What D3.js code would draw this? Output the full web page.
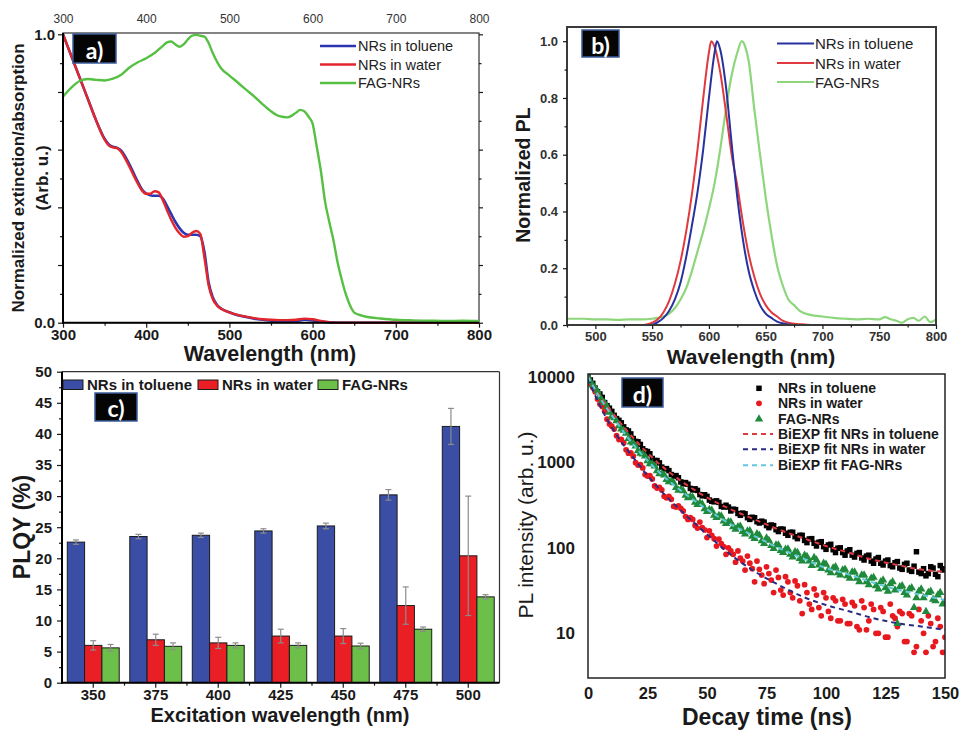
<!DOCTYPE html>
<html><head><meta charset="utf-8">
<script src="https://cdn.jsdelivr.net/npm/d3@7"></script>
<style>body{margin:0;background:#fff;} svg{display:block;}</style>
</head><body><svg id="c" width="960" height="730"></svg>
<script>
// ---------- Panel a: absorption ----------
const absTolWl = [300,310,320,330,340,350,355,360,365,370,375,380,385,390,395,400,405,410,415,420,425,430,435,440,445,450,455,460,465,470,475,480,485,490,500,510,520,530,540,550,560,570,580,590,600,610,620,630,650,700,750,800];
const absTolVal = [1.0,0.925,0.85,0.775,0.70,0.638,0.618,0.61,0.606,0.597,0.575,0.548,0.518,0.488,0.462,0.448,0.442,0.44,0.44,0.43,0.405,0.377,0.35,0.328,0.312,0.305,0.305,0.305,0.3,0.245,0.14,0.088,0.062,0.049,0.036,0.026,0.02,0.014,0.01,0.007,0.005,0.005,0.006,0.01,0.008,0.004,0.001,0,0,0,0,0];
const absWatWl = absTolWl;
const absWatVal = [1.0,0.925,0.85,0.775,0.70,0.635,0.615,0.608,0.605,0.592,0.568,0.54,0.51,0.482,0.458,0.447,0.447,0.456,0.452,0.425,0.39,0.357,0.33,0.31,0.298,0.3,0.312,0.318,0.308,0.225,0.13,0.082,0.06,0.048,0.036,0.027,0.021,0.016,0.012,0.01,0.009,0.009,0.01,0.014,0.012,0.006,0.002,0,0,0,0,0];
const absFagWl = [300,310,320,330,340,350,360,370,380,390,400,410,420,425,430,435,440,445,450,455,460,465,470,475,480,490,500,510,520,530,540,550,560,570,580,585,590,595,600,605,610,615,620,625,630,635,640,645,650,660,670,680,700,720,740,760,780,800];
const absFagVal = [0.784,0.815,0.838,0.845,0.842,0.84,0.846,0.86,0.885,0.903,0.917,0.935,0.96,0.972,0.975,0.965,0.957,0.965,0.982,0.995,0.998,0.995,0.992,0.97,0.935,0.882,0.857,0.833,0.808,0.784,0.757,0.733,0.716,0.712,0.728,0.738,0.733,0.715,0.69,0.61,0.525,0.42,0.35,0.287,0.21,0.15,0.098,0.06,0.035,0.024,0.018,0.015,0.01,0.008,0.007,0.006,0.007,0.006];
const absTicks = [300,400,500,600,700,800];

// ---------- Panel b: PL ----------
const plTolWl = [550,555,560,565,570,575,580,585,590,595,600,605,607,610,615,620,625,630,635,640,645,650,655,660,665,670,680,700,800];
const plTolVal = [0,0.01,0.025,0.05,0.09,0.15,0.24,0.35,0.47,0.62,0.80,0.96,1.0,0.97,0.84,0.64,0.45,0.30,0.19,0.12,0.07,0.04,0.025,0.012,0.006,0.002,0,0,0];
const plWatWl = [475,500,540,545,550,555,560,565,570,575,580,585,590,595,600,602,605,610,615,620,625,630,635,640,645,650,655,660,665,670,680,690,800];
const plWatVal = [0,0,0,0.002,0.008,0.02,0.045,0.085,0.145,0.225,0.33,0.46,0.62,0.80,0.96,1.0,0.98,0.89,0.75,0.6,0.49,0.36,0.25,0.17,0.11,0.07,0.045,0.03,0.015,0.008,0.003,0,0];
const plFagWl = [475,490,500,510,520,530,540,550,555,560,565,570,575,580,585,590,595,600,605,610,615,620,625,629,632,635,640,645,650,655,660,665,670,675,680,690,700,710,720,730,740,750,755,760,765,770,775,780,785,790,795,800];
const plFagVal = [0.022,0.022,0.02,0.02,0.018,0.02,0.02,0.022,0.025,0.03,0.04,0.06,0.09,0.13,0.19,0.26,0.33,0.41,0.50,0.62,0.76,0.88,0.96,1.0,0.98,0.93,0.76,0.60,0.45,0.32,0.21,0.14,0.09,0.07,0.05,0.035,0.03,0.025,0.022,0.02,0.022,0.02,0.028,0.02,0.015,0.008,0.02,0.025,0.015,0.03,0.01,0.02];
const plXTicks = [500,550,600,650,700,750,800];
const plYTicks = [0,0.2,0.4,0.6,0.8,1.0];

// ---------- Panel c: PLQY ----------
const excitation = ["350","375","400","425","450","475","500"];
const plqyToluene = [22.6,23.5,23.7,24.4,25.2,30.2,41.2];
const plqyTolueneErr = [0.35,0.35,0.35,0.35,0.45,0.85,2.9];
const plqyWater = [6.0,6.9,6.4,7.5,7.5,12.4,20.4];
const plqyWaterErr = [0.75,0.9,0.9,1.1,1.2,3.0,9.6];
const plqyFag = [5.6,5.85,6.0,6.0,5.9,8.6,13.8];
const plqyFagErr = [0.55,0.55,0.4,0.4,0.45,0.35,0.35];
const plqyTicks = [0,5,10,15,20,25,30,35,40,45,50];

// ---------- Panel d: decay ----------
const decayTime = [0,2,4,6,8,10,12,14,16,18,20,22,24,26,28,30,32,34,36,38,40,42,44,46,48,50,52,54,56,58,60,62,64,66,68,70,72,74,76,78,80,82,84,86,88,90,92,94,96,98,100,102,104,106,108,110,112,114,116,118,120,122,124,126,128,130,132,134,136,138,140,142,144,146,148,150];
const decayToluene = [10000,8400,6700,5750,4600,3950,3250,2900,2400,2150,1760,1620,1360,1260,1050,985,840,800,690,660,560,555,475,470,405,400,350,355,305,315,270,280,240,250,215,225,195,200,172,182,155,165,140,152,128,140,115,128,105,118,96,110,88,100,82,95,78,88,72,82,66,77,63,72,60,69,56,66,53,90,50,47,60,49,62,57];
const decayWater = [9600,7500,5500,4500,3200,2650,2050,1850,1400,1290,990,940,720,700,530,510,400,400,305,310,270,215,215,170,172,132,140,105,112,84,92,68,76,55,66,40,56,38,50,30,45,28,40,26,36,17,30,19,28,16,26,15,24,14,22,13,21,11,20,14,19,10,18,9,16,12,17,8,16,7,14,6,13,8,12,9];
const decayFag = [10000,8000,6800,5250,4450,3450,3050,2450,2180,1720,1550,1270,1180,960,905,735,710,590,575,470,465,385,390,320,325,265,275,225,235,192,200,165,178,145,158,128,140,112,122,98,108,88,97,78,88,70,79,62,72,57,64,51,60,48,56,44,52,40,48,37,45,33,42,31,40,13,36,28,34,26,33,18,31,24,30,23];
const decayTimeOdd = [1,3,5,7,9,11,13,15,17,19,21,23,25,27,29,31,33,35,37,39,41,43,45,47,49,51,53,55,57,59,61,63,65,67,69,71,73,75,77,79,81,83,85,87,89,91,93,95,97,99,101,103,105,107,109,111,113,115,117,119,121,123,125,127,129,131,133,135,137,139,141,143,145,147,149];
const decayTolueneOdd = [9200,7400,6300,5000,4300,3550,3100,2600,2330,1900,1740,1440,1340,1110,1050,880,845,720,700,590,580,495,490,420,418,362,345,340,300,300,283,252,255,225,228,202,205,182,185,163,166,148,152,135,140,122,127,113,116,103,108,95,99,88,92,82,86,76,80,70,74,66,70,62,67,58,64,55,61,52,57,50,58,46,55];
const decayWaterOdd = [8200,6700,4800,3950,2800,2450,1850,1700,1280,1180,930,860,690,640,500,475,385,370,300,290,232,225,183,200,162,158,128,126,103,100,84,92,70,80,57,70,48,60,42,55,32,46,30,41,24,37,22,33,20,30,18,26,14,25,13,23,12,24,11,22,10,20,9,22,15,18,8,17,6,19,10,16,7,15,6];
const decayFagOdd = [8800,7450,5800,4950,3850,3320,2680,2360,1890,1680,1360,1250,1040,960,795,740,630,600,505,480,410,398,340,335,285,280,240,238,205,202,176,176,155,157,136,146,121,130,106,108,93,96,84,90,75,82,70,77,63,66,55,58,51,55,47,52,44,48,40,44,36,40,34,38,32,35,30,33,20,31,26,30,25,28,22];
const fitTime = [0,5,10,20,30,40,50,60,70,80,90,100,110,120,130,140,150];
const fitToluene = [10000,5900,3880,1800,955,582,387,282,215,164,131,105,87,72,63,55.6,52.5];
const fitWater = [9550,4600,2570,1047,485,257,144,83,53,37,27,21.4,18,15,13.1,12,11];
const fitFag = [10000,5700,3540,1500,762,444,282,188,137,100,76,58,48.5,39,32.4,28.2,24.5];
const decayXTicks = [0,25,50,75,100,125,150];
const decayYTicks = [10,100,1000,10000];

// =====================================================
const F = '"Liberation Sans", Arial, Helvetica, sans-serif';
const svg = d3.select("#c").attr("font-family", F);
const zip = (a, b) => a.map((d, i) => [d, b[i]]);

function styleAxis(g, fs, weight, color) {
  g.attr("font-family", null).attr("font-size", null);
  g.selectAll("text").attr("font-size", fs).attr("font-weight", weight).attr("fill", color || "#1a1a1a");
  g.selectAll("line").attr("stroke", "#1a1a1a").attr("stroke-width", 1.2);
  g.select(".domain").remove();
  return g;
}
function labelBox(x, y, w, h, t) {
  svg.append("rect").attr("x", x).attr("y", y).attr("width", w).attr("height", h)
    .attr("fill", "#050505").attr("stroke", "#3b5c9c").attr("stroke-width", 1.5);
  svg.append("text").attr("x", x + w / 2).attr("y", y + h / 2 + 1).attr("text-anchor", "middle")
    .attr("dominant-baseline", "central").attr("fill", "#fff").attr("font-family", "Lato, 'Open Sans', sans-serif")
    .attr("font-weight", 700).attr("font-size", 23).text(t);
}
function clip(id, x, y, w, h) {
  svg.append("clipPath").attr("id", id).append("rect").attr("x", x).attr("y", y).attr("width", w).attr("height", h);
}

// ---------------- Panel a ----------------
{
  const A = { l: 63, r: 479, t: 33, b: 322.7 };
  const x = d3.scaleLinear([300, 800], [A.l, A.r]);
  const y = d3.scaleLinear([0, 1], [A.b, 34.3]);
  svg.append("rect").attr("x", A.l).attr("y", A.t).attr("width", A.r - A.l).attr("height", A.b - A.t)
    .attr("fill", "none").attr("stroke", "#333").attr("stroke-width", 1.2);
  clip("clipA", A.l, A.t, A.r - A.l, A.b - A.t + 2);
  const line = d3.line().x(d => x(d[0])).y(d => y(d[1])).curve(d3.curveMonotoneX);
  const g = svg.append("g").attr("clip-path", "url(#clipA)");
  g.append("path").attr("d", line(zip(absTolWl, absTolVal))).attr("fill", "none").attr("stroke", "#2b36b0").attr("stroke-width", 2.6);
  g.append("path").attr("d", line(zip(absWatWl, absWatVal))).attr("fill", "none").attr("stroke", "#e3262c").attr("stroke-width", 2.4);
  g.append("path").attr("d", line(zip(absFagWl, absFagVal))).attr("fill", "none").attr("stroke", "#56c043").attr("stroke-width", 2.4);

  styleAxis(svg.append("g").attr("transform", `translate(0,${A.b})`)
    .call(d3.axisBottom(x).tickValues(absTicks).tickSize(5).tickPadding(2).tickFormat(d3.format("d"))), 15, 700);
  styleAxis(svg.append("g").attr("transform", `translate(0,${A.b})`)
    .call(d3.axisBottom(x).tickValues([350, 450, 550, 650, 750]).tickSize(3).tickFormat("")), 15, 700);
  styleAxis(svg.append("g").attr("transform", `translate(0,${A.t})`)
    .call(d3.axisTop(x).tickValues(absTicks).tickSize(0).tickPadding(10).tickFormat(d3.format("d"))), 12, 400, "#333");
  styleAxis(svg.append("g").attr("transform", `translate(${A.l},0)`)
    .call(d3.axisLeft(y).tickValues([0, 0.2, 0.4, 0.6, 0.8, 1]).tickSize(5).tickPadding(3)
      .tickFormat(d => (d === 0 || d === 1) ? d3.format(".1f")(d) : "")), 15, 700);
  styleAxis(svg.append("g").attr("transform", `translate(${A.l},0)`)
    .call(d3.axisLeft(y).tickValues([0.1, 0.3, 0.5, 0.7, 0.9]).tickSize(3).tickFormat("")), 15, 700);
  styleAxis(svg.append("g").attr("transform", `translate(${A.r},0)`)
    .call(d3.axisRight(y).tickValues([0, 0.2, 0.4, 0.6, 0.8, 1]).tickSize(4).tickFormat("")), 15, 700);
  styleAxis(svg.append("g").attr("transform", `translate(${A.r},0)`)
    .call(d3.axisRight(y).tickValues([0.1, 0.3, 0.5, 0.7, 0.9]).tickSize(2.5).tickFormat("")), 15, 700);
  svg.append("line").attr("x1", A.l).attr("x2", A.l).attr("y1", A.t).attr("y2", A.b + 1).attr("stroke", "#000").attr("stroke-width", 2);
  svg.append("line").attr("x1", A.l - 1).attr("x2", A.r).attr("y1", A.b).attr("y2", A.b).attr("stroke", "#000").attr("stroke-width", 2);

  svg.append("text").attr("transform", "translate(18,178) rotate(-90)").attr("text-anchor", "middle")
    .attr("dominant-baseline", "central").attr("font-weight", 700).attr("font-size", 17).attr("fill", "#1a1a1a")
    .text("Normalized extinction/absorption");
  svg.append("text").attr("transform", "translate(42,178) rotate(-90)").attr("text-anchor", "middle")
    .attr("dominant-baseline", "central").attr("font-weight", 700).attr("font-size", 17).attr("fill", "#1a1a1a")
    .text("(Arb. u.)");
  svg.append("text").attr("x", 270).attr("y", 361).attr("text-anchor", "middle").attr("font-weight", 700)
    .attr("font-size", 21.5).attr("fill", "#1a1a1a").text("Wavelength (nm)");

  const leg = [["NRs in toluene", "#2b36b0"], ["NRs in water", "#e3262c"], ["FAG-NRs", "#56c043"]];
  const ly = [46, 64.5, 83];
  leg.forEach((d, i) => {
    svg.append("line").attr("x1", 320).attr("x2", 356).attr("y1", ly[i]).attr("y2", ly[i]).attr("stroke", d[1]).attr("stroke-width", 2.4);
    svg.append("text").attr("x", 358).attr("y", ly[i]).attr("dominant-baseline", "central").attr("font-size", 14.5)
      .attr("fill", "#222").text(d[0]);
  });
  labelBox(73, 34, 43, 29, "a)");
}

// ---------------- Panel b ----------------
{
  const B = { l: 567, r: 936, t: 27, b: 325 };
  const x = d3.scaleLinear([475, 800], [B.l, B.r]);
  const y = d3.scaleLinear([0, 1.05], [B.b, B.t]);
  clip("clipB", B.l, B.t, B.r - B.l, B.b - B.t);
  const line = d3.line().x(d => x(d[0])).y(d => y(d[1])).curve(d3.curveMonotoneX);
  const g = svg.append("g").attr("clip-path", "url(#clipB)");
  g.append("path").attr("d", line(zip(plFagWl, plFagVal))).attr("fill", "none").attr("stroke", "#8dd67c").attr("stroke-width", 2.2);
  g.append("path").attr("d", line(zip(plWatWl, plWatVal))).attr("fill", "none").attr("stroke", "#e03a40").attr("stroke-width", 2);
  g.append("path").attr("d", line(zip(plTolWl, plTolVal))).attr("fill", "none").attr("stroke", "#27329e").attr("stroke-width", 2);
  svg.append("rect").attr("x", B.l).attr("y", B.t).attr("width", B.r - B.l).attr("height", B.b - B.t)
    .attr("fill", "none").attr("stroke", "#3a3a3a").attr("stroke-width", 2);

  styleAxis(svg.append("g").attr("transform", `translate(0,${B.b})`)
    .call(d3.axisBottom(x).tickValues(plXTicks).tickSize(4).tickPadding(3).tickFormat(d3.format("d"))), 13, 700, "#333");
  styleAxis(svg.append("g").attr("transform", `translate(0,${B.b})`)
    .call(d3.axisBottom(x).tickValues([475, 525, 575, 625, 675, 725, 775]).tickSize(2.5).tickFormat("")), 13, 700);
  styleAxis(svg.append("g").attr("transform", `translate(${B.l},0)`)
    .call(d3.axisLeft(y).tickValues(plYTicks).tickSize(4).tickPadding(5).tickFormat(d3.format(".1f"))), 13, 700, "#333");
  styleAxis(svg.append("g").attr("transform", `translate(${B.l},0)`)
    .call(d3.axisLeft(y).tickValues([0.1, 0.3, 0.5, 0.7, 0.9]).tickSize(2.5).tickFormat("")), 13, 700);

  svg.append("text").attr("transform", "translate(523,175) rotate(-90)").attr("text-anchor", "middle")
    .attr("dominant-baseline", "central").attr("font-weight", 700).attr("font-size", 19.5).attr("fill", "#1a1a1a")
    .text("Normalized PL");
  svg.append("text").attr("x", 751).attr("y", 364).attr("text-anchor", "middle").attr("font-weight", 700)
    .attr("font-size", 21).attr("fill", "#1a1a1a").text("Wavelength (nm)");

  const leg = [["NRs in toluene", "#27329e"], ["NRs in water", "#e03a40"], ["FAG-NRs", "#8dd67c"]];
  const ly = [43.5, 63, 82];
  leg.forEach((d, i) => {
    svg.append("line").attr("x1", 777).attr("x2", 814).attr("y1", ly[i]).attr("y2", ly[i]).attr("stroke", d[1]).attr("stroke-width", 2.2);
    svg.append("text").attr("x", 815).attr("y", ly[i]).attr("dominant-baseline", "central").attr("font-size", 15)
      .attr("fill", "#222").text(d[0]);
  });
  labelBox(582, 30, 37, 27, "b)");
}

// ---------------- Panel c ----------------
{
  const C = { l: 62, r: 499.5, t: 371.7, b: 682.7 };
  const x = d3.scaleBand(excitation, [C.l, C.r]);
  const y = d3.scaleLinear([0, 50], [C.b, C.t]);
  const bw = x.bandwidth() * 0.277;
  const series = [
    [plqyToluene, plqyTolueneErr, "#3a4ea6"],
    [plqyWater, plqyWaterErr, "#ea1f26"],
    [plqyFag, plqyFagErr, "#6cbf48"]
  ];
  svg.append("line").attr("x1", C.l).attr("x2", C.r).attr("y1", C.t).attr("y2", C.t).attr("stroke", "#333").attr("stroke-width", 1.2);
  svg.append("line").attr("x1", C.r).attr("x2", C.r).attr("y1", C.t).attr("y2", C.b).attr("stroke", "#333").attr("stroke-width", 1.2);
  series.forEach((s, si) => {
    excitation.forEach((cat, i) => {
      const cx = x(cat) + x.bandwidth() / 2;
      const x0 = cx - 1.5 * bw + si * bw;
      svg.append("rect").attr("x", x0).attr("y", y(s[0][i])).attr("width", bw).attr("height", C.b - y(s[0][i]))
        .attr("fill", s[2]).attr("stroke", "#1b1b1b").attr("stroke-width", 1);
    });
  });
  series.forEach((s, si) => {
    excitation.forEach((cat, i) => {
      const cx = x(cat) + x.bandwidth() / 2;
      const mx = cx - 1.5 * bw + si * bw + bw / 2;
      const hi = y(s[0][i] + s[1][i]), lo = y(s[0][i] - s[1][i]);
      const eg = svg.append("g").attr("stroke", "#8c8c8c").attr("stroke-width", 1.2);
      eg.append("line").attr("x1", mx).attr("x2", mx).attr("y1", hi).attr("y2", lo);
      eg.append("line").attr("x1", mx - 3).attr("x2", mx + 3).attr("y1", hi).attr("y2", hi);
      eg.append("line").attr("x1", mx - 3).attr("x2", mx + 3).attr("y1", lo).attr("y2", lo);
    });
  });
  styleAxis(svg.append("g").attr("transform", `translate(${C.l},0)`)
    .call(d3.axisLeft(y).tickValues(plqyTicks).tickSize(5).tickPadding(5)), 15, 700);
  styleAxis(svg.append("g").attr("transform", `translate(${C.l},0)`)
    .call(d3.axisLeft(y).tickValues(plqyTicks.slice(0, -1).map(v => v + 2.5)).tickSize(3).tickFormat("")), 15, 700);
  styleAxis(svg.append("g").attr("transform", `translate(0,${C.b})`)
    .call(d3.axisBottom(x).tickSize(5).tickPadding(2)), 15, 700);
  const bounds = excitation.slice(1).map(c => x(c));
  bounds.forEach(bx => svg.append("line").attr("x1", bx).attr("x2", bx).attr("y1", C.b).attr("y2", C.b + 3).attr("stroke", "#1a1a1a").attr("stroke-width", 1.2));
  svg.append("line").attr("x1", C.l).attr("x2", C.l).attr("y1", C.t).attr("y2", C.b + 1).attr("stroke", "#000").attr("stroke-width", 2);
  svg.append("line").attr("x1", C.l - 1).attr("x2", C.r).attr("y1", C.b).attr("y2", C.b).attr("stroke", "#000").attr("stroke-width", 2);

  svg.append("text").attr("transform", "translate(22,527) rotate(-90)").attr("text-anchor", "middle")
    .attr("dominant-baseline", "central").attr("font-weight", 700).attr("font-size", 23).attr("fill", "#1a1a1a")
    .text("PLQY (%)");
  svg.append("text").attr("x", 280).attr("y", 722).attr("text-anchor", "middle").attr("font-weight", 700)
    .attr("font-size", 20).attr("fill", "#1a1a1a").text("Excitation wavelength (nm)");

  const leg = [["NRs in toluene", "#3a4ea6", 63], ["NRs in water", "#ea1f26", 198], ["FAG-NRs", "#6cbf48", 318]];
  leg.forEach(d => {
    svg.append("rect").attr("x", d[2]).attr("y", 380).attr("width", 20).attr("height", 9.5).attr("fill", d[1])
      .attr("stroke", "#1b1b1b").attr("stroke-width", 1);
    svg.append("text").attr("x", d[2] + 24).attr("y", 384.5).attr("dominant-baseline", "central").attr("font-size", 15)
      .attr("font-weight", 700).attr("fill", "#1a1a1a").text(d[0]);
  });
  labelBox(95, 393, 42, 28, "c)");
}

// ---------------- Panel d ----------------
{
  const D = { l: 588, r: 945, t: 374, b: 678 };
  const x = d3.scaleLinear([0, 150], [D.l, D.r]);
  const y = d3.scaleLog([3, 10800], [D.b, D.t]);
  clip("clipD", D.l, D.t, D.r - D.l, D.b - D.t);
  const g = svg.append("g").attr("clip-path", "url(#clipD)");
  const sq = d3.symbol(d3.symbolSquare, 30)(), ci = d3.symbol(d3.symbolCircle, 26)(), tr = d3.symbol(d3.symbolTriangle, 30)();
  const pts = (t, v, t2, v2) => zip(t, v).concat(zip(t2, v2));
  g.selectAll(".pt").data(pts(decayTime, decayToluene, decayTimeOdd, decayTolueneOdd)).join("path").attr("d", sq)
    .attr("transform", d => `translate(${x(d[0])},${y(d[1])})`).attr("fill", "#000");
  g.selectAll(".pw").data(pts(decayTime, decayWater, decayTimeOdd, decayWaterOdd)).join("path").attr("d", ci)
    .attr("transform", d => `translate(${x(d[0])},${y(d[1])})`).attr("fill", "#e8181f");
  g.selectAll(".pf").data(pts(decayTime, decayFag, decayTimeOdd, decayFagOdd)).join("path").attr("d", tr)
    .attr("transform", d => `translate(${x(d[0])},${y(d[1])})`).attr("fill", "#1f8a3c");
  const line = d3.line().x(d => x(d[0])).y(d => y(d[1])).curve(d3.curveMonotoneX);
  g.append("path").attr("d", line(zip(fitTime, fitToluene))).attr("fill", "none").attr("stroke", "#e0393f").attr("stroke-width", 2).attr("stroke-dasharray", "5,4");
  g.append("path").attr("d", line(zip(fitTime, fitWater))).attr("fill", "none").attr("stroke", "#2a2a85").attr("stroke-width", 2).attr("stroke-dasharray", "5,4");
  g.append("path").attr("d", line(zip(fitTime, fitFag))).attr("fill", "none").attr("stroke", "#63c8df").attr("stroke-width", 2).attr("stroke-dasharray", "5,4");
  svg.append("rect").attr("x", D.l).attr("y", D.t).attr("width", D.r - D.l).attr("height", D.b - D.t)
    .attr("fill", "none").attr("stroke", "#222").attr("stroke-width", 1.5);

  styleAxis(svg.append("g").attr("transform", `translate(${D.l},0)`)
    .call(d3.axisLeft(y).tickValues(decayYTicks).tickSize(0).tickPadding(13).tickFormat(d3.format("d"))), 17, 700);
  styleAxis(svg.append("g").attr("transform", `translate(0,${D.b})`)
    .call(d3.axisBottom(x).tickValues(decayXTicks).tickSize(0).tickPadding(9).tickFormat(d3.format("d"))), 16.5, 700);

  svg.append("text").attr("transform", "translate(525,525) rotate(-90)").attr("text-anchor", "middle")
    .attr("dominant-baseline", "central").attr("font-size", 21).attr("fill", "#1a1a1a")
    .text("PL intensity (arb. u.)");
  svg.append("text").attr("x", 767).attr("y", 725).attr("text-anchor", "middle").attr("font-weight", 700)
    .attr("font-size", 23).attr("fill", "#1a1a1a").text("Decay time (ns)");

  const ly = [388.3, 403.3, 419, 434, 449.3, 465.3];
  const mk = [[sq, "#000"], [ci, "#e8181f"], [tr, "#1f8a3c"]];
  const txt = ["NRs in toluene", "NRs in water", "FAG-NRs", "BiEXP fit NRs in toluene", "BiEXP fit NRs in water", "BiEXP fit FAG-NRs"];
  const dc = ["#e0393f", "#2a2a85", "#63c8df"];
  ly.forEach((yy, i) => {
    if (i < 3) svg.append("path").attr("d", mk[i][0]).attr("transform", `translate(759,${yy})`).attr("fill", mk[i][1]);
    else svg.append("line").attr("x1", 743).attr("x2", 773).attr("y1", yy).attr("y2", yy).attr("stroke", dc[i - 3])
      .attr("stroke-width", 2).attr("stroke-dasharray", "5,4");
    svg.append("text").attr("x", 778).attr("y", yy).attr("dominant-baseline", "central").attr("font-size", 14)
      .attr("font-weight", 700).attr("fill", "#1a1a1a").text(txt[i]);
  });
  labelBox(622, 378, 41, 29, "d)");
}
</script></body></html>
